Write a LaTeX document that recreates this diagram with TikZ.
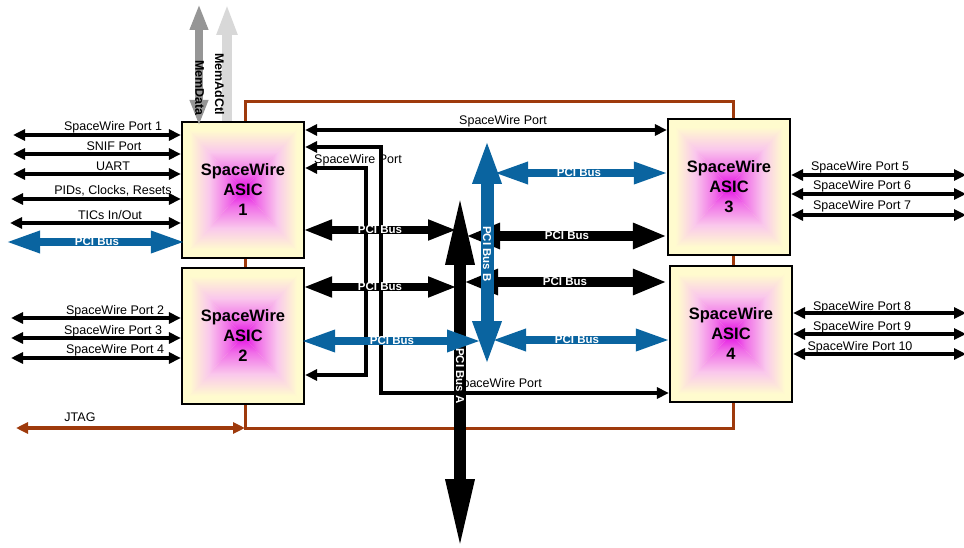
\documentclass[tikz,border=0pt]{standalone}
\usepackage{fontspec}
\setmainfont{Liberation Sans}
\usetikzlibrary{arrows.meta,calc}
\definecolor{pciblue}{RGB}{10,100,160}
\definecolor{framebrown}{RGB}{158,58,12}
\definecolor{asiccream}{RGB}{255,251,206}
\definecolor{asicpinkA}{RGB}{250,200,236}
\definecolor{asicpinkB}{RGB}{240,110,232}
\definecolor{asicmag}{RGB}{228,10,228}
\definecolor{memdark}{RGB}{150,150,150}
\definecolor{memlight}{RGB}{216,216,216}
\pgfdeclareverticalshading{pyrV}{100bp}{color(0bp)=(asiccream); color(28bp)=(asiccream); color(36bp)=(asicpinkA); color(44bp)=(asicpinkB); color(50bp)=(asicmag); color(56bp)=(asicpinkB); color(64bp)=(asicpinkA); color(72bp)=(asiccream); color(100bp)=(asiccream)}
\pgfdeclarehorizontalshading{pyrH}{100bp}{color(0bp)=(asiccream); color(28bp)=(asiccream); color(36bp)=(asicpinkA); color(44bp)=(asicpinkB); color(50bp)=(asicmag); color(56bp)=(asicpinkB); color(64bp)=(asicpinkA); color(72bp)=(asiccream); color(100bp)=(asiccream)}
\newcommand\asicshade[2]{%
  \fill[asiccream] (#1-61,#2-68) rectangle (#1+61,#2+68);
  \begin{scope}\clip (#1-61,#2-68) -- (#1+61,#2-68) -- (#1,#2) -- cycle;
    \shade[shading=pyrV] (#1-61,#2-68) rectangle (#1+61,#2+68);\end{scope}
  \begin{scope}\clip (#1-61,#2+68) -- (#1+61,#2+68) -- (#1,#2) -- cycle;
    \shade[shading=pyrV] (#1-61,#2-68) rectangle (#1+61,#2+68);\end{scope}
  \begin{scope}\clip (#1-61,#2-68) -- (#1-61,#2+68) -- (#1,#2) -- cycle;
    \shade[shading=pyrH] (#1-61,#2-68) rectangle (#1+61,#2+68);\end{scope}
  \begin{scope}\clip (#1+61,#2-68) -- (#1+61,#2+68) -- (#1,#2) -- cycle;
    \shade[shading=pyrH] (#1-61,#2-68) rectangle (#1+61,#2+68);\end{scope}
}
\begin{document}
\begin{tikzpicture}[x=1pt,y=-1pt,
  asicbox/.style={draw=black,line width=2.2pt,minimum width=122pt,minimum height=136pt,
    inner sep=0pt,align=center,font=\bfseries\fontsize{16.5}{20}\selectfont},
  lbl/.style={inner sep=0pt,font=\fontsize{12.5}{14}\selectfont},
  wlbl/.style={inner sep=0pt,text=white,font=\bfseries\fontsize{11.5}{13}\selectfont},
  swline/.style={black,line width=3.3pt,line join=miter,
    {Triangle[length=12pt,width=11pt]}-{Triangle[length=12pt,width=11pt]}},
  jtagline/.style={framebrown,line width=3.6pt,
    {Triangle[length=12pt,width=11pt]}-{Triangle[length=12pt,width=11pt]}},
  pcibkS/.style={black,line width=8.5pt,
    {Triangle[length=29pt,width=19pt]}-{Triangle[length=29pt,width=19pt]}},
  pcibkL/.style={black,line width=10pt,
    {Triangle[length=34pt,width=24pt]}-{Triangle[length=34pt,width=24pt]}},
  pciblu/.style={pciblue,line width=8.5pt,
    {Triangle[length=35pt,width=20pt]}-{Triangle[length=35pt,width=20pt]}},
  busBstyle/.style={pciblue,line width=13pt,
    {Triangle[length=45pt,width=26pt]}-{Triangle[length=45pt,width=26pt]}},
  busAstyle/.style={black,line width=12pt,
    {Triangle[length=72pt,width=26pt]}-{Triangle[length=72pt,width=26pt]}},
  memD/.style={memdark,line width=8pt,
    {Triangle[length=26pt,width=17pt]}-{Triangle[length=26pt,width=17pt]}},
  memC/.style={memlight,line width=10pt,-{Triangle[length=31pt,width=19pt]}},
  memlbl/.style={inner sep=0pt,rotate=-90,font=\bfseries\fontsize{12.5}{14}\selectfont}
]
\useasboundingbox (0,0) rectangle (964,548);

% frame
\draw[framebrown,line width=3pt] (245,102) rectangle (733,428);
\coordinate (frameSW) at (245,428);

% ASIC boxes
\asicshade{243}{190}
\asicshade{243}{336}
\asicshade{729}{187}
\asicshade{731}{334}
\node[asicbox] (a1) at (243,190) {SpaceWire\\ASIC\\1};
\node[asicbox] (a2) at (243,336) {SpaceWire\\ASIC\\2};
\node[asicbox] (a3) at (729,187) {SpaceWire\\ASIC\\3};
\node[asicbox] (a4) at (731,334) {SpaceWire\\ASIC\\4};

% memory arrows
\coordinate (memDtop) at (199,4);
\coordinate (memCtop) at (227,4);
\draw[memD,shorten >=-5pt] (memDtop) -- (a1.north -| memDtop);
\draw[memC] (a1.north -| memCtop) -- (memCtop);
\node[memlbl] (tMemData) at (199.5,88) {MemData};
\node[memlbl] (tMemAdCtl) at (219.5,84) {MemAdCtl};

% left ports of ASIC 1
\coordinate (l1) at (13,135);
\coordinate (l2) at (13,154);
\coordinate (l3) at (13,174);
\coordinate (l4) at (11,199);
\coordinate (l5) at (10,223);
\draw[swline] (l1) -- (l1 -| a1.west);
\draw[swline] (l2) -- (l2 -| a1.west);
\draw[swline] (l3) -- (l3 -| a1.west);
\draw[swline] (l4) -- (l4 -| a1.west);
\draw[swline] (l5) -- (l5 -| a1.west);
\node[lbl] (t1) at (113,127) {SpaceWire Port 1};
\node[lbl] (t2) at (114,146) {SNIF Port};
\node[lbl] (t3) at (113,166) {UART};
\node[lbl] (t4) at (113,191) {PIDs, Clocks, Resets};
\node[lbl] (t5) at (110,215) {TICs In/Out};
\coordinate (bL1) at (5,242);
\draw[pciblu,shorten >=-5pt] (bL1) -- (bL1 -| a1.west);
\node[wlbl] (tbl1) at (97,242) {PCI Bus};

% left ports of ASIC 2
\coordinate (m2) at (11,318);
\coordinate (m3) at (11,338);
\coordinate (m4) at (11,358);
\draw[swline] (m2) -- (m2 -| a2.west);
\draw[swline] (m3) -- (m3 -| a2.west);
\draw[swline] (m4) -- (m4 -| a2.west);
\node[lbl] (u2) at (115,311) {SpaceWire Port 2};
\node[lbl] (u3) at (113,331) {SpaceWire Port 3};
\node[lbl] (u4) at (115,350) {SpaceWire Port 4};

% JTAG
\coordinate (jtagL) at (16,428);
\draw[jtagline] (jtagL) -- (frameSW);
\node[lbl] (tj) at (80,417) {JTAG};

% right ports of ASIC 3 and 4
\coordinate (r5) at (966,175);
\coordinate (r6) at (966,194);
\coordinate (r7) at (966,215);
\coordinate (r8) at (966,313);
\coordinate (r9) at (966,334);
\coordinate (r10) at (966,354);
\draw[swline] (a3.east |- r5) -- (r5);
\draw[swline] (a3.east |- r6) -- (r6);
\draw[swline] (a3.east |- r7) -- (r7);
\draw[swline] (a4.east |- r8) -- (r8);
\draw[swline] (a4.east |- r9) -- (r9);
\draw[swline] (a4.east |- r10) -- (r10);
\node[lbl] (v5) at (860,167) {SpaceWire Port 5};
\node[lbl] (v6) at (862,186) {SpaceWire Port 6};
\node[lbl] (v7) at (862,206) {SpaceWire Port 7};
\node[lbl] (v8) at (862,307) {SpaceWire Port 8};
\node[lbl] (v9) at (862,327) {SpaceWire Port 9};
\node[lbl] (v10) at (860,347) {SpaceWire Port 10};

% internal SpaceWire links
\coordinate (swTop) at (487,130);
\draw[swline] (a1.east |- swTop) -- (a3.west |- swTop);
\node[lbl] (ts1) at (503,121) {SpaceWire Port};
\node[lbl] (ts2) at (358,160) {SpaceWire Port};
\node[lbl] (ts3) at (498,384) {SpaceWire Port};
\coordinate (c1a) at (381,147);
\coordinate (c1b) at (381,393);
\draw[swline] (a1.east |- c1a) -- (c1a) -- (c1b) -- (a4.west |- c1b);
\coordinate (c2a) at (366,168);
\coordinate (c2b) at (366,375);
\draw[swline] (a1.east |- c2a) -- (c2a) -- (c2b) -- (a2.east |- c2b);

% black PCI buses
\coordinate (pA1) at (457,230);
\coordinate (pA2) at (457,287);
\coordinate (pB3) at (466,236);
\coordinate (pB4) at (464,282);
\draw[pcibkS,shorten <=-2pt] (a1.east |- pA1) -- (pA1);
\draw[pcibkS,shorten <=-2pt] (a2.east |- pA2) -- (pA2);
\draw[pcibkL] (pB3) -- (a3.west |- pB3);
\draw[pcibkL,shorten >=2pt] (pB4) -- (a4.west |- pB4);

% PCI Bus A
\coordinate (busAtop) at (460,193);
\coordinate (busAbot) at (460,551);
\draw[busAstyle] (busAbot) -- (busAtop);

% PCI Bus B
\coordinate (busBtop) at (487,139);
\coordinate (busBbot) at (487,366);
\draw[busBstyle] (busBbot) -- (busBtop);

% blue PCI buses
\coordinate (bB3) at (493,173);
\coordinate (bA2) at (482,341);
\coordinate (bB4) at (491,340);
\draw[pciblu,shorten >=-2pt] (bB3) -- (a3.west |- bB3);
\draw[pciblu,shorten <=-5pt] (a2.east |- bA2) -- (bA2);
\draw[pciblu,shorten >=-2pt] (bB4) -- (a4.west |- bB4);

% labels on buses
\node[wlbl] (tp1) at (380,230) {PCI Bus};
\node[wlbl] (tp2) at (380,287) {PCI Bus};
\node[wlbl] (tp3) at (567,236) {PCI Bus};
\node[wlbl] (tp4) at (565,282) {PCI Bus};
\node[wlbl] (tp5) at (579,173) {PCI Bus};
\node[wlbl] (tp6) at (392,341) {PCI Bus};
\node[wlbl] (tp7) at (577,340) {PCI Bus};
\node[wlbl,rotate=-90] (tbA) at (460,376) {PCI Bus A};
\node[wlbl,rotate=-90] (tbB) at (487,254) {PCI Bus B};
\end{tikzpicture}
\end{document}
